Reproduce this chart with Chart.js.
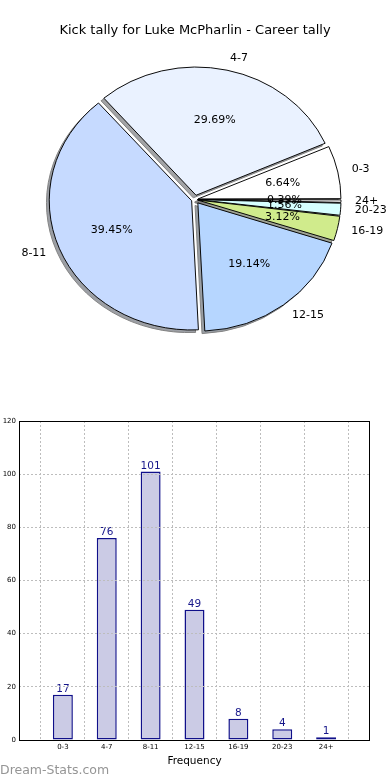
<!DOCTYPE html>
<html>
<head>
<meta charset="utf-8">
<script src="https://cdn.jsdelivr.net/npm/chart.js@4/dist/chart.umd.min.js"></script>
<style>
  html, body { margin: 0; padding: 0; background: #ffffff; }
  #wrap { position: relative; width: 390px; height: 780px; overflow: hidden; background: #fff; }
  #pie { position: absolute; left: 0; top: 0; }
  #bar { position: absolute; left: 0; top: 400px; }
  #mark { position: absolute; left: 0; top: 762px; font: 12.5px "DejaVu Sans", sans-serif; line-height: 15px; color: #959595; }
</style>
</head>
<body>
<div id="wrap">
  <canvas id="pie" width="390" height="400"></canvas>
  <canvas id="bar" width="390" height="380"></canvas>
  <div id="mark">Dream-Stats.com</div>
</div>
<script>
// ---- data ----
const chartTitle = 'Kick tally for Luke McPharlin - Career tally';
const categories = ['0-3', '4-7', '8-11', '12-15', '16-19', '20-23', '24+'];
const tally = [17, 76, 101, 49, 8, 4, 1];
const yMin = 0, yMax = 120, yStep = 20;
const xTitle = 'Frequency';

// ---- styles ----
const sliceColors = ['#ffffff', '#eaf2ff', '#c6daff', '#b6d6ff', '#d0eb8c', '#d6ffff', '#ffffff'];
const FONT = '"DejaVu Sans", "Liberation Sans", sans-serif';
const EXPLODE = 5;          // px shift of each slice
const K = 128 / 141;        // vertical squash of the pie (elliptical in reference)
const PIE_R = 141;

Chart.defaults.font.family = FONT;
Chart.defaults.color = '#000';

const total = tally.reduce((a, b) => a + b, 0);
function pct(v) {
  const s = v / total * 10000;
  let r = Math.round(s);
  const f = Math.floor(s);
  if (Math.abs(s - f - 0.5) < 1e-9 && f % 2 === 0) r = f;
  return (r / 100).toFixed(2) + '%';
}

// Chart.js pies go clockwise; matplotlib counter-clockwise from 3 o'clock -> reverse order
const order = categories.map((_, i) => i).reverse();
const pieLabels = order.map(i => categories[i]);
const pieValues = order.map(i => tally[i]);
const pieColors = order.map(i => sliceColors[i]);

function arcOffset(ctx) {
  const v = ctx.dataset.data[ctx.dataIndex];
  const circ = 2 * Math.PI * v / total;
  const fix = 1 - Math.sin(Math.min(Math.PI, circ));
  return 4 * EXPLODE / (1 + fix);
}

function ellipse(ctx, cx, cy) {
  ctx.translate(cx, cy); ctx.scale(1, K); ctx.translate(-cx, -cy);
}

const pieFx = {
  id: 'pieFx',
  beforeDatasetDraw(chart, args) {
    const ctx = chart.ctx;
    const arcs = args.meta.data;
    const cx = arcs[0].x, cy = arcs[0].y;
    // shadow (drawn offscreen, then composited at 50% alpha)
    const off = document.createElement('canvas');
    off.width = chart.canvas.width; off.height = chart.canvas.height;
    const o = off.getContext('2d');
    o.save();
    o.translate(-2.8, 2.6);
    ellipse(o, cx, cy);
    o.filter = 'brightness(0.3)';
    arcs.forEach(a => a.draw(o));
    o.restore();
    ctx.save();
    ctx.setTransform(1, 0, 0, 1, 0, 0);
    ctx.globalAlpha = 0.5;
    ctx.drawImage(off, 0, 0);
    ctx.restore();
    // real slices, squashed
    ctx.save();
    ellipse(ctx, cx, cy);
  },
  afterDatasetDraw(chart, args) {
    const ctx = chart.ctx;
    ctx.restore();
    const arcs = args.meta.data;
    ctx.save();
    ctx.fillStyle = '#000';
    ctx.font = '11px ' + FONT;
    arcs.forEach((arc, j) => {
      const i = order[j];
      const a = (arc.startAngle + arc.endAngle) / 2;
      const c = Math.cos(a), s = Math.sin(a);
      const R = arc.outerRadius;
      const cx = arc.x, cy = arc.y;
      const lx = cx + c * (EXPLODE + 1.1 * R), ly = cy + K * s * (EXPLODE + 1.1 * R);
      ctx.textBaseline = 'middle';
      ctx.textAlign = c > 0 ? 'left' : 'right';
      ctx.fillText(categories[i], lx, ly);
      const px = cx + c * (EXPLODE + 0.6 * R), py = cy + K * s * (EXPLODE + 0.6 * R);
      ctx.textAlign = 'center';
      ctx.fillText(pct(tally[i]), px, py);
    });
    ctx.restore();
  }
};

new Chart(document.getElementById('pie'), {
  type: 'pie',
  data: {
    labels: pieLabels,
    datasets: [{
      data: pieValues,
      backgroundColor: pieColors,
      borderColor: '#000',
      borderWidth: 1,
      offset: arcOffset,
      hoverOffset: 0,
      clip: false
    }]
  },
  options: {
    responsive: false,
    animation: false,
    devicePixelRatio: 1,
    rotation: 90,
    radius: PIE_R,
    layout: { padding: { top: 0, bottom: 39.6, left: 0, right: 0 } },
    events: [],
    plugins: {
      legend: { display: false },
      tooltip: { enabled: false },
      title: {
        display: true,
        text: chartTitle,
        color: '#000',
        font: { family: FONT, size: 13, weight: 'normal' },
        padding: { top: 23, bottom: 0 }
      }
    }
  },
  plugins: [pieFx]
});

// ---- bar chart ----
const barLabels = [''].concat(categories, ['']);
const barData = [null].concat(tally, [null]);

const barFx = {
  id: 'barFx',
  afterDatasetsDraw(chart) {
    const ctx = chart.ctx;
    const meta = chart.getDatasetMeta(0);
    ctx.save();
    ctx.fillStyle = '#16168a';
    ctx.font = '10.5px ' + FONT;
    ctx.textAlign = 'center';
    ctx.textBaseline = 'alphabetic';
    meta.data.forEach((bar, i) => {
      const v = barData[i];
      if (v === null || v === undefined) return;
      ctx.fillText(String(v), bar.x, bar.y - 3);
    });
    ctx.restore();
  },
  afterDraw(chart) {
    const ctx = chart.ctx;
    const a = chart.chartArea;
    ctx.save();
    ctx.strokeStyle = '#000';
    ctx.lineWidth = 1;
    ctx.strokeRect(Math.round(a.left) + 0.5, Math.round(a.top) + 0.5,
                   Math.round(a.right - a.left) - 1, Math.round(a.bottom - a.top));
    ctx.restore();
  }
};

new Chart(document.getElementById('bar'), {
  type: 'bar',
  data: {
    labels: barLabels,
    datasets: [{
      data: barData,
      backgroundColor: '#cbcbe5',
      borderColor: '#10108a',
      borderWidth: 1.5,
      borderSkipped: false,
      barPercentage: 0.455,
      categoryPercentage: 1
    }]
  },
  options: {
    responsive: false,
    animation: false,
    devicePixelRatio: 1,
    events: [],
    layout: { padding: { top: 21, right: 20, bottom: 10, left: 0 } },
    plugins: { legend: { display: false }, tooltip: { enabled: false } },
    scales: {
      x: {
        offset: false,
        grid: { display: true, color: '#bdbdbd', drawTicks: false, z: 1 },
        border: { display: false, dash: [2, 2] },
        ticks: { font: { size: 7 }, color: '#000', padding: 3, autoSkip: false, maxRotation: 0 },
        title: { display: true, text: xTitle, font: { size: 10.5 }, color: '#000', padding: { top: 0, bottom: 2 } },
        afterFit(scale) { scale.height = 30; }
      },
      y: {
        min: yMin, max: yMax,
        grid: { color: '#bdbdbd', drawTicks: false, z: 1 },
        border: { display: false, dash: [2, 2] },
        ticks: { stepSize: yStep, font: { size: 7 }, color: '#000', padding: 3 },
        afterFit(scale) { scale.width = 19; }
      }
    }
  },
  plugins: [barFx]
});
</script>
</body>
</html>
